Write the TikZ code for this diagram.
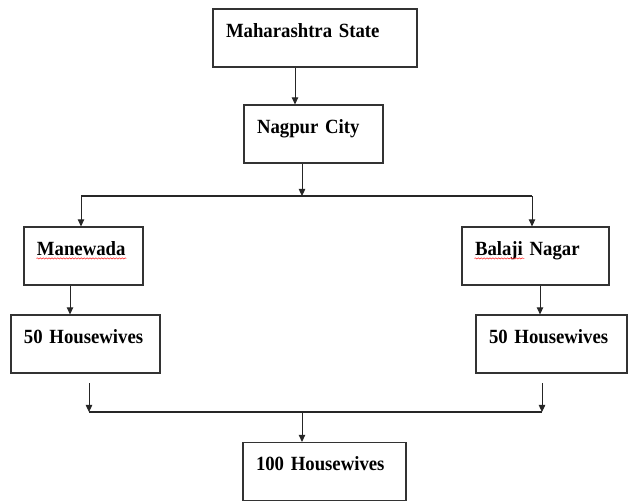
\documentclass[tikz,border=0pt]{standalone}
\usepackage{fontspec}
\setmainfont{Liberation Serif}[FakeStretch=0.93]
\usetikzlibrary{calc, arrows.meta, decorations.pathmorphing}
\newcommand\boxfont{\fontsize{17.2}{20}\selectfont\bfseries\spaceskip=0.16em\relax}

\begin{document}
\begin{tikzpicture}[x=0.03cm, y=-0.03cm, thick,
  blk/.style={draw=black!80, line width=1pt, align=left, inner xsep=0.39cm, inner ysep=0pt,
    minimum height=1.74cm, text height=11pt, text depth=12pt, font=\boxfont},
  arr/.style={draw=black!85, line width=0.8pt, -{Triangle[length=6pt,width=5.5pt]}},
  lnk/.style={draw=black!85, line width=0.9pt},
  squig/.style={draw=red!80, line width=0.5pt, decorate,
    decoration={snake, amplitude=0.5pt, segment length=2.5pt}}]
  \useasboundingbox (0,0) rectangle (628,503);
  % boxes
  \node[blk, text width=5.34cm] (mah) at (315,38) {Maharashtra State};
  \node[blk, text width=3.39cm] (nag) at (313.5,134) {Nagpur City};
  \node[blk, text width=2.79cm] (man) at (83.5,256) {Manewada};
  \node[blk, text width=3.63cm] (bal) at (535.5,256) {Balaji Nagar};
  \node[blk, text width=3.69cm] (lhw) at (85.5,344) {50 Housewives};
  \node[blk, text width=3.75cm] (rhw) at (551.5,344) {50 Housewives};
  \node[blk, text width=4.11cm] (tot) at (324.5,471.5) {100 Housewives};
  % spell-check marks
  \draw[squig] ($(man.base west)+(13,3)$) -- ($(man.base west)+(103,3)$);
  \draw[squig] ($(bal.base west)+(13,3)$) -- ($(bal.base west)+(63,3)$);
  % joints
  \coordinate (x1) at (295,0);
  \coordinate (x2) at (70,0);
  \coordinate (x3) at (540,0);
  \coordinate (jl) at (81,196);
  \coordinate (jm) at (302,196);
  \coordinate (jr) at (532,196);
  \coordinate (sl) at (89,383);
  \coordinate (sr) at (542,383);
  \coordinate (kl) at (89,412);
  \coordinate (km) at (302,412);
  \coordinate (kr) at (542,412);
  % connectors
  \draw[arr] (mah.south -| x1) -- (nag.north -| x1);
  \draw[arr] (nag.south -| jm) -- (jm);
  \draw[lnk] (jl) -- (jr);
  \draw[arr] (jl) -- (man.north -| jl);
  \draw[arr] (jr) -- (bal.north -| jr);
  \draw[arr] (man.south -| x2) -- (lhw.north -| x2);
  \draw[arr] (bal.south -| x3) -- (rhw.north -| x3);
  \draw[arr] (sl) -- (kl);
  \draw[arr] (sr) -- (kr);
  \draw[lnk] (kl) -- (kr);
  \draw[arr] (km) -- (tot.north -| km);
\end{tikzpicture}
\end{document}
